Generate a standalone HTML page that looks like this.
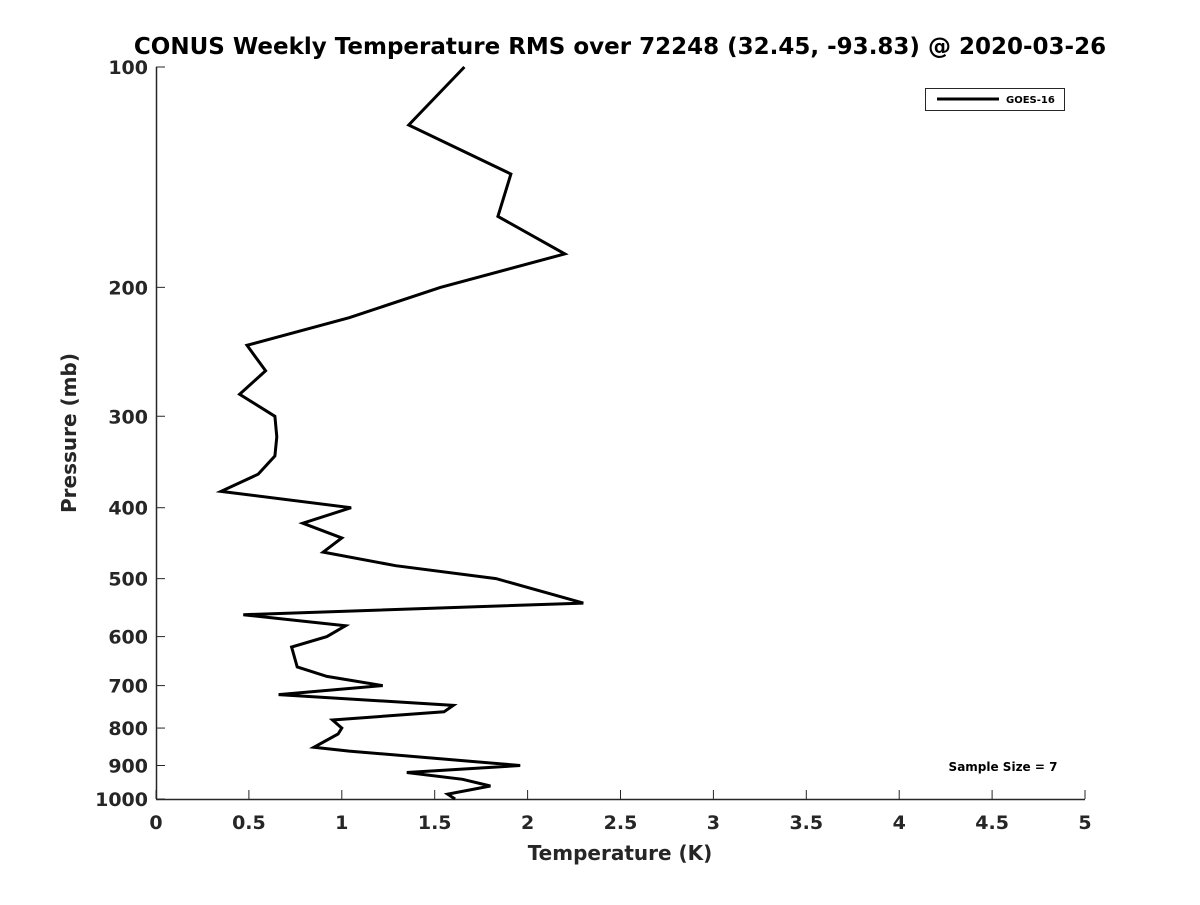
<!DOCTYPE html>
<html><head><meta charset="utf-8"><style>
body{margin:0;background:#fff}
text{font-family:"DejaVu Sans","Liberation Sans",sans-serif;font-weight:bold;fill:#262626}
</style></head><body>
<svg id="chart" width="1200" height="900" xmlns="http://www.w3.org/2000/svg">
<text x="620" y="54" text-anchor="middle" font-size="23" style="fill:#000">CONUS Weekly Temperature RMS over 72248 (32.45, -93.83) @ 2020-03-26</text>
<g id="axes"></g>
<g id="series"></g>
<text x="620" y="860" text-anchor="middle" font-size="20">Temperature (K)</text>
<text x="76" y="433" text-anchor="middle" font-size="20" transform="rotate(-90 76 433)">Pressure (mb)</text>
<g>
<rect x="925.5" y="88.5" width="139" height="22" fill="#fff" stroke="#262626" stroke-width="1"/>
<line x1="937" y1="99" x2="999" y2="99" stroke="#000" stroke-width="3"/>
<text x="1006" y="103" font-size="10" style="fill:#000">GOES-16</text>
</g>
<text x="1003" y="771" text-anchor="middle" font-size="12" style="fill:#000">Sample Size = 7</text>
</svg>
<script>
const pressures=[100,120,140,160,180,200,220,240,260,280,300,320,340,360,380,400,420,440,460,480,500,540,560,580,600,620,660,680,700,720,745,760,780,800,815,850,860,900,920,940,960,985,1000];
const rmsValues=[1.66,1.36,1.91,1.84,2.2,1.53,1.04,0.49,0.59,0.45,0.64,0.65,0.64,0.55,0.35,1.05,0.79,1.0,0.9,1.29,1.83,2.3,0.47,1.02,0.92,0.73,0.76,0.92,1.22,0.66,1.6,1.55,0.95,1.0,0.98,0.85,1.04,1.96,1.35,1.65,1.8,1.57,1.61];
const xTicks=[0,0.5,1,1.5,2,2.5,3,3.5,4,4.5,5];
const xTickLabels=["0","0.5","1","1.5","2","2.5","3","3.5","4","4.5","5"];
const yTicks=[100,200,300,400,500,600,700,800,900,1000];
const yTickLabels=["100","200","300","400","500","600","700","800","900","1000"];
const X0=156,X1=1085,Y0=67,Y1=799;
const xs=v=>X0+(v-0)/(5-0)*(X1-X0);
const ys=p=>Y0+Math.log10(p/100)*(Y1-Y0);
const NS="http://www.w3.org/2000/svg";
const ax=document.getElementById('axes');
function mk(t,a,parent){const e=document.createElementNS(NS,t);for(const k in a)e.setAttribute(k,a[k]);parent.appendChild(e);return e;}
const xl=mk('line',{x1:X0,y1:Y1+0.5,x2:X1,y2:Y1+0.5,stroke:'#262626','stroke-width':1.5},ax);


const yl=mk('line',{x1:X0+0.5,y1:Y0,x2:X0+0.5,y2:Y1,stroke:'#262626','stroke-width':1.5},ax);


xTicks.forEach((v,i)=>{
 const x=xs(v);
 const t=mk('line',{x1:x,y1:Y1,x2:x,y2:Y1-9,stroke:'#262626','stroke-width':1},ax);
 
 
 const l=mk('text',{x:x,y:Y1+30,'text-anchor':'middle','font-size':19},ax);
 
 
 l.textContent=xTickLabels[i];
});
yTicks.forEach((p,i)=>{
 const y=ys(p);
 const t=mk('line',{x1:X0,y1:y,x2:X0+9,y2:y,stroke:'#262626','stroke-width':1},ax);
 
 
 const l=mk('text',{x:X0-8,y:y+7,'text-anchor':'end','font-size':19},ax);
 
 
 l.textContent=yTickLabels[i];
});
const pts=pressures.map((p,i)=>xs(rmsValues[i]).toFixed(1)+','+ys(p).toFixed(1)).join(' ');
const line=mk('polyline',{points:pts,fill:'none',stroke:'#000','stroke-width':3,'stroke-linejoin':'miter'},document.getElementById('series'));


</script>
</body></html>
